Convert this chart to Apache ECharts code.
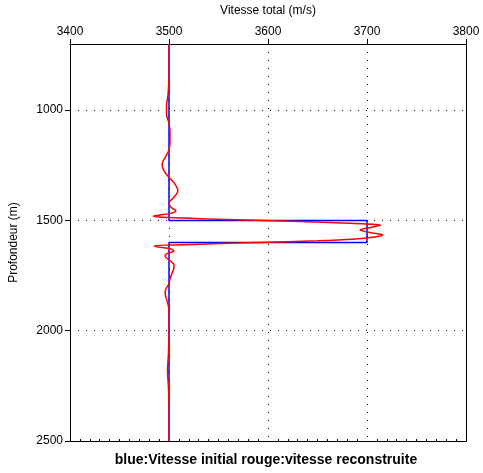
<!DOCTYPE html>
<html>
<head>
<meta charset="utf-8">
<script src="https://cdn.jsdelivr.net/npm/echarts@6/dist/echarts.min.js"></script>
<style>
  html, body { margin: 0; padding: 0; background: #fff; }
  #chart { width: 483px; height: 473px; }
</style>
</head>
<body>
<div id="chart"></div>
<script>
// modele initial (bleu) : profondeur / vitesse
const blueDepth = [700, 1500, 1500, 1600, 1600, 2500]
const blueVel   = [3500, 3500, 3700, 3700, 3500, 3500]

// modele reconstruit (rouge)
const redDepth = [700, 850, 930, 980, 1020, 1060, 1100, 1140, 1180, 1215, 1245, 1275, 1305, 1335, 1365,
  1395, 1420, 1440, 1456, 1468, 1476, 1481, 1487, 1493, 1500, 1508, 1515, 1521, 1530, 1543, 1555, 1566,
  1575, 1585, 1592, 1600, 1608, 1615, 1621, 1629, 1638, 1650, 1661, 1680, 1700, 1714, 1740, 1765, 1787,
  1810, 1827, 1850, 1880, 1910, 2000, 2100, 2180, 2260, 2350, 2500]
const redVel = [3500, 3500, 3499, 3497.5, 3497.5, 3500, 3501, 3501, 3500, 3496, 3493, 3495, 3500, 3506, 3509,
  3505, 3500, 3502, 3507, 3502, 3490, 3484, 3500, 3540, 3595, 3655, 3695, 3714, 3706, 3693, 3703, 3716,
  3708, 3685, 3650, 3590, 3530, 3485, 3489, 3502, 3505, 3498, 3496, 3500, 3505, 3505, 3503, 3501, 3500,
  3497, 3496, 3497, 3499, 3500, 3500, 3499.5, 3498.5, 3499.5, 3500, 3500]

const xTicks = [3400, 3500, 3600, 3700, 3800]
const yTicks = [1000, 1500, 2000, 2500]

const chart = echarts.init(document.getElementById('chart'))

const font = 'Liberation Sans, Arial, sans-serif'
const dotted = { color: '#000', width: 1, type: [1, 7] }

chart.setOption({
  animation: false,
  textStyle: { fontFamily: font },
  grid: { left: 68, right: 17, top: 43, bottom: 32 },
  xAxis: [{
    type: 'value', position: 'top',
    min: xTicks[0], max: xTicks[xTicks.length - 1], interval: 100,
    name: 'Vitesse total (m/s)', nameLocation: 'middle', nameGap: 27,
    nameTextStyle: { color: '#000', fontSize: 12, fontFamily: font },
    axisLine: { show: true, lineStyle: { color: '#000', width: 1 } },
    axisTick: { show: true, length: 5, lineStyle: { color: '#000' } },
    axisLabel: { color: '#000', fontSize: 12, margin: 6, fontFamily: font, formatter: v => String(v) },
    splitLine: { show: true, lineStyle: dotted }
  }, {
    type: 'value', position: 'bottom',
    min: xTicks[0], max: xTicks[xTicks.length - 1], interval: 100,
    axisLine: { show: true, lineStyle: { color: '#000', width: 1 } },
    axisTick: { show: false },
    minorTick: { show: true, splitNumber: 10, length: -2, lineStyle: { color: '#000' } },
    axisLabel: { show: false },
    splitLine: { show: false }
  }],
  yAxis: [{
    type: 'value', inverse: true,
    min: 700, max: 2500, splitNumber: 4,
    name: 'Profondeur (m)', nameLocation: 'middle', nameGap: 50,
    nameTextStyle: { color: '#000', fontSize: 12, fontFamily: font },
    axisLine: { show: true, lineStyle: { color: '#000', width: 1 } },
    axisTick: { show: true, length: 5, lineStyle: { color: '#000' } },
    axisLabel: {
      color: '#000', fontSize: 12, margin: 7, fontFamily: font, showMinLabel: false,
      formatter: v => (yTicks.includes(v) ? String(v) : '')
    },
    splitLine: { show: true, lineStyle: dotted }
  }, {
    type: 'value', inverse: true, position: 'right',
    min: 700, max: 2500, splitNumber: 4,
    axisLine: { show: true, lineStyle: { color: '#000', width: 1 } },
    axisTick: { show: false },
    axisLabel: { show: false },
    splitLine: { show: false }
  }],
  graphic: [{
    type: 'text', x: 266, y: 460,
    style: {
      text: 'blue:Vitesse initial rouge:vitesse reconstruite',
      font: 'bold 14px ' + font, fill: '#000',
      align: 'center', verticalAlign: 'middle'
    }
  }],
  series: [{
    name: 'initial', type: 'line', xAxisIndex: 0, yAxisIndex: 0,
    data: blueDepth.map((d, i) => [blueVel[i], d]),
    showSymbol: false, symbol: 'none',
    lineStyle: { color: '#0000ff', width: 1.5 },
    z: 2
  }, {
    name: 'reconstruite', type: 'line', xAxisIndex: 0, yAxisIndex: 0,
    data: redDepth.map((d, i) => [redVel[i], d]),
    showSymbol: false, symbol: 'none', smooth: 0.3,
    lineStyle: { color: '#ff0000', width: 1.5 },
    z: 3
  }]
})
</script>
</body>
</html>
